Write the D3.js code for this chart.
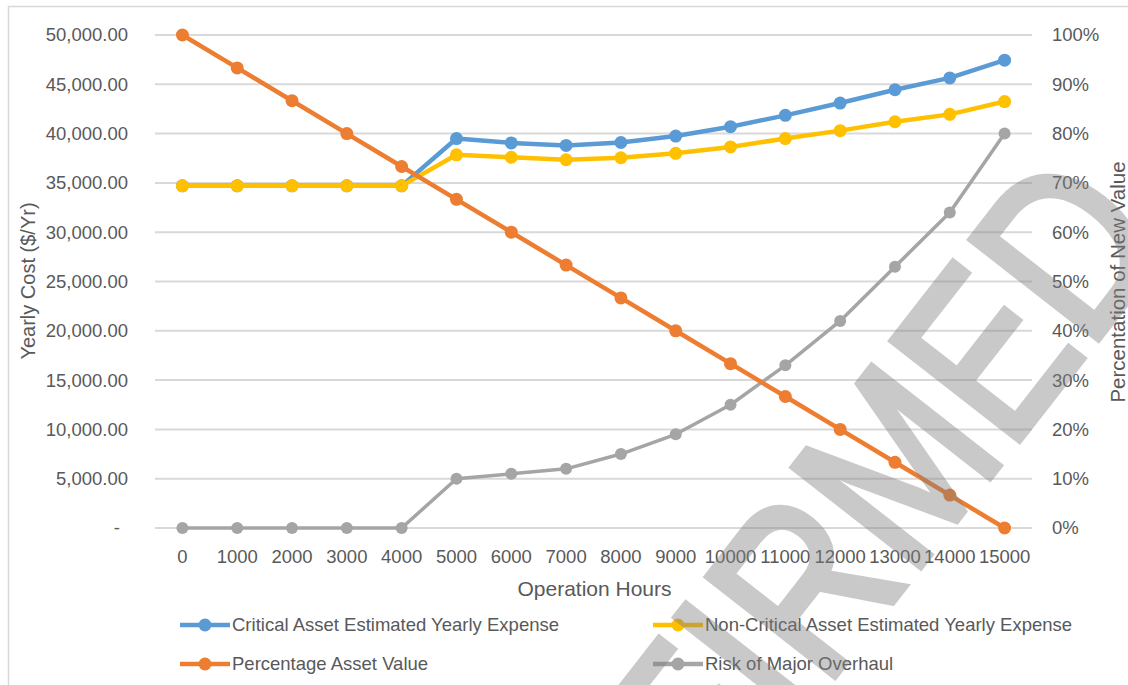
<!DOCTYPE html>
<html>
<head>
<meta charset="utf-8">
<script src="https://cdn.jsdelivr.net/npm/d3@7"></script>
<style>
  html, body { margin: 0; padding: 0; background: #ffffff; }
  svg { display: block; font-family: "Liberation Sans", Arial, sans-serif; }
</style>
</head>
<body>
<svg id="chart" width="1128" height="685"></svg>
<script>
// Operation hours (category axis)
const hours = ["0", "1000", "2000", "3000", "4000", "5000", "6000", "7000",
               "8000", "9000", "10000", "11000", "12000", "13000", "14000", "15000"];

// Yearly cost series ($/Yr), primary axis
const criticalExpense    = [34700, 34700, 34700, 34700, 34700, 39500, 39050, 38800,
                            39100, 39750, 40700, 41850, 43100, 44450, 45650, 47450];
const nonCriticalExpense = [34700, 34700, 34700, 34700, 34700, 37850, 37600, 37350,
                            37550, 38000, 38650, 39500, 40300, 41200, 41950, 43250];

// Percentage series, secondary axis
const assetValuePct = [1.00, 0.9333, 0.8667, 0.80, 0.7333, 0.6667, 0.60, 0.5333,
                       0.4667, 0.40, 0.3333, 0.2667, 0.20, 0.1333, 0.0667, 0.00];
const overhaulRisk  = [0, 0, 0, 0, 0, 0.10, 0.11, 0.12,
                       0.15, 0.19, 0.25, 0.33, 0.42, 0.53, 0.64, 0.80];

// Axis ticks
const costTicks = [0, 5000, 10000, 15000, 20000, 25000, 30000, 35000, 40000, 45000, 50000];
const pctTicks  = [0, 0.1, 0.2, 0.3, 0.4, 0.5, 0.6, 0.7, 0.8, 0.9, 1.0];

const seriesNames = ["Critical Asset Estimated Yearly Expense",
                     "Non-Critical Asset Estimated Yearly Expense",
                     "Percentage Asset Value",
                     "Risk of Major Overhaul"];
const seriesColors = ["#5B9BD5", "#FFC000", "#ED7D31", "#A5A5A5"];

const textColor = "#595959";
const gridColor = "#d9d9d9";

const svg = d3.select("#chart");

// chart frame
svg.append("rect")
  .attr("x", 8.5).attr("y", 6.5)
  .attr("width", 1140).attr("height", 700)
  .attr("fill", "none").attr("stroke", gridColor).attr("stroke-width", 1.5);

const plot = { left: 155, right: 1032, top: 35, bottom: 528 };

const x = d3.scaleBand().domain(hours).range([plot.left, plot.right]);
const cx = d => x(d) + x.bandwidth() / 2;
const yCost = d3.scaleLinear().domain([0, 50000]).range([plot.bottom, plot.top]);
const yPct  = d3.scaleLinear().domain([0, 1]).range([plot.bottom, plot.top]);

// horizontal gridlines
svg.append("g").selectAll("line")
  .data(costTicks)
  .join("line")
  .attr("x1", plot.left).attr("x2", plot.right)
  .attr("y1", d => yCost(d)).attr("y2", d => yCost(d))
  .attr("stroke", gridColor).attr("stroke-width", 2);

// left axis labels
const costFmt = d3.format(",.2f");
const leftAxis = svg.append("g")
  .attr("transform", `translate(${plot.left - 27},0)`)
  .call(d3.axisLeft(yCost).tickValues(costTicks).tickSize(0).tickPadding(0)
        .tickFormat(d => d === 0 ? "-" : costFmt(d)));
leftAxis.select(".domain").remove();
leftAxis.selectAll("text")
  .attr("fill", textColor).attr("font-size", 18.5)
  .attr("font-family", "'Liberation Sans', Arial, sans-serif")
  .attr("dx", d => d === 0 ? -8 : 0);

// right axis labels
const rightAxis = svg.append("g")
  .attr("transform", `translate(${plot.right + 20},0)`)
  .call(d3.axisRight(yPct).tickValues(pctTicks).tickSize(0).tickPadding(0)
        .tickFormat(d3.format(".0%")));
rightAxis.select(".domain").remove();
rightAxis.selectAll("text")
  .attr("fill", textColor).attr("font-size", 18.5)
  .attr("font-family", "'Liberation Sans', Arial, sans-serif");

// bottom axis labels
const bottomAxis = svg.append("g")
  .attr("transform", `translate(0,${plot.bottom + 22})`)
  .call(d3.axisBottom(x).tickSize(0).tickPadding(0));
bottomAxis.select(".domain").remove();
bottomAxis.selectAll("text")
  .attr("fill", textColor).attr("font-size", 18.5)
  .attr("font-family", "'Liberation Sans', Arial, sans-serif");

// axis titles
svg.append("text")
  .attr("x", (plot.left + plot.right) / 2 + 1).attr("y", 596)
  .attr("text-anchor", "middle").attr("fill", textColor).attr("font-size", 21)
  .text("Operation Hours");

svg.append("text")
  .attr("transform", "translate(35,281) rotate(-90)")
  .attr("text-anchor", "middle").attr("fill", textColor).attr("font-size", 20)
  .text("Yearly Cost ($/Yr)");

svg.append("text")
  .attr("transform", "translate(1125,282) rotate(-90)")
  .attr("text-anchor", "middle").attr("fill", textColor).attr("font-size", 20.5)
  .text("Percentation of New Value");

// series
const series = [
  { values: criticalExpense,    y: yCost, color: seriesColors[0], w: 4.5, r: 6.5 },
  { values: nonCriticalExpense, y: yCost, color: seriesColors[1], w: 4.5, r: 6.5 },
  { values: overhaulRisk,       y: yPct,  color: seriesColors[3], w: 3.5, r: 6 },
  { values: assetValuePct,      y: yPct,  color: seriesColors[2], w: 4.5, r: 6.5 }
];

series.forEach(s => {
  const g = svg.append("g");
  const line = d3.line().x((d, i) => cx(hours[i])).y(d => s.y(d));
  g.append("path")
    .datum(s.values)
    .attr("d", line)
    .attr("fill", "none").attr("stroke", s.color)
    .attr("stroke-width", s.w).attr("stroke-linejoin", "round");
  g.selectAll("circle")
    .data(s.values)
    .join("circle")
    .attr("cx", (d, i) => cx(hours[i]))
    .attr("cy", d => s.y(d))
    .attr("r", s.r)
    .attr("fill", s.color);
});

// legend
const legendItems = [
  { name: seriesNames[0], color: seriesColors[0], x: 180, y: 625 },
  { name: seriesNames[1], color: seriesColors[1], x: 653, y: 625 },
  { name: seriesNames[2], color: seriesColors[2], x: 180, y: 664 },
  { name: seriesNames[3], color: seriesColors[3], x: 653, y: 664 }
];
const legend = svg.append("g").selectAll("g")
  .data(legendItems)
  .join("g")
  .attr("transform", d => `translate(${d.x},${d.y})`);
legend.append("line")
  .attr("x1", 0).attr("x2", 50).attr("y1", 0).attr("y2", 0)
  .attr("stroke", d => d.color).attr("stroke-width", 4.5);
legend.append("circle")
  .attr("cx", 25).attr("cy", 0).attr("r", 6.5)
  .attr("fill", d => d.color);
legend.append("text")
  .attr("x", 52).attr("y", 0).attr("dy", "0.35em")
  .attr("fill", textColor).attr("font-size", 18.5)
  .text(d => d.name);

// watermark stamp (semi-transparent, condensed, drawn over the chart)
svg.append("g")
  .attr("opacity", 0.42)
  .append("text")
  .attr("transform", "translate(1174,242) rotate(-52) scale(0.82,1)")
  .attr("text-anchor", "end")
  .attr("font-size", 235)
  .attr("fill", "#7f7f7f")
  .attr("stroke", "#7f7f7f").attr("stroke-width", 7).attr("stroke-linejoin", "miter")
  .text("CONFIRMED");
</script>
</body>
</html>
